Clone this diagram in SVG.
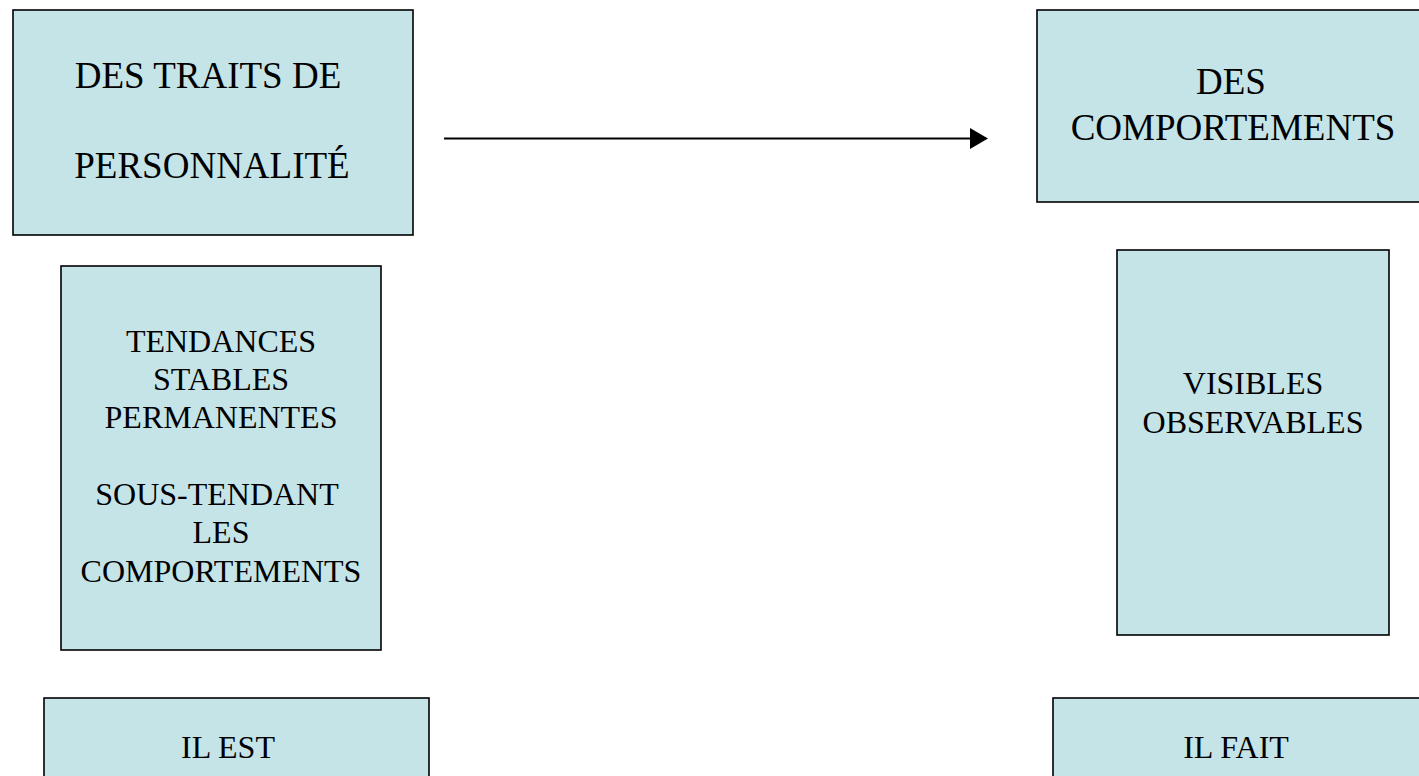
<svg xmlns="http://www.w3.org/2000/svg" width="1419" height="776" viewBox="0 0 1419 776">
<style>
.box{fill:#c5e4e8;stroke:#000;stroke-width:1.6}
.t{font-family:"Liberation Serif","Times New Roman",serif;fill:#000;text-anchor:middle}
.big{font-size:37px}
.med{font-size:32px}
.conn{stroke:#000;stroke-width:2;fill:none}
</style>
<defs>
<marker id="arr" markerWidth="18" markerHeight="21" refX="0" refY="10.5" orient="auto" markerUnits="userSpaceOnUse" viewBox="0 0 18 21">
<path d="M0,0 L18,10.5 L0,21 Z" fill="#000"/>
</marker>
</defs>
<g id="node-traits">
<rect class="box" x="13" y="10" width="400" height="225"/>
<text class="t big" x="208" y="88">DES TRAITS DE</text>
<text class="t big" x="212" y="178">PERSONNALITÉ</text>
</g>
<g id="node-comportements">
<rect class="box" x="1037" y="10" width="390" height="192"/>
<text class="t big" x="1231" y="94">DES</text>
<text class="t big" x="1233" y="140">COMPORTEMENTS</text>
</g>
<g id="node-tendances">
<rect class="box" x="61" y="266" width="320" height="384"/>
<text class="t med" x="221" y="352">TENDANCES</text>
<text class="t med" x="221" y="390">STABLES</text>
<text class="t med" x="221" y="428">PERMANENTES</text>
<text class="t med" x="217" y="505">SOUS-TENDANT</text>
<text class="t med" x="221" y="543">LES</text>
<text class="t med" x="221" y="582">COMPORTEMENTS</text>
</g>
<g id="node-visibles">
<rect class="box" x="1117" y="250" width="272" height="385"/>
<text class="t med" x="1253" y="394">VISIBLES</text>
<text class="t med" x="1253" y="433">OBSERVABLES</text>
</g>
<g id="node-ilest">
<rect class="box" x="44" y="698" width="385" height="100"/>
<text class="t med" x="228" y="758">IL EST</text>
</g>
<g id="node-ilfait">
<rect class="box" x="1053" y="698" width="380" height="100"/>
<text class="t med" x="1236" y="758">IL FAIT</text>
</g>
<g id="connectors">
<line class="conn" x1="444" y1="138.5" x2="970" y2="138.5" marker-end="url(#arr)"/>
</g>
</svg>
